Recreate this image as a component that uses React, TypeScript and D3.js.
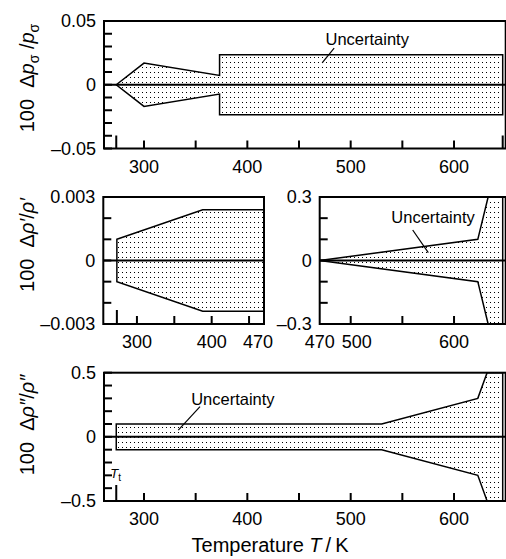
import React from "react";
import * as d3 from "d3";

const W = 506;
const H = 559;
const FONT = "'Liberation Sans', Arial, Helvetica, sans-serif";

// ---- data ----
const T_TRIPLE = 273.16;
const T_CRIT = 647.096;

const pressT = [273.16, 300, 373.124, 373.124, 647.096];
const pressU = [0, 0.017, 0.0073, 0.0235, 0.0235];

const liqLowT = [273.16, 388, 470];
const liqLowU = [0.001, 0.0024, 0.0024];

const liqHighT = [470, 623, 633, 647.096];
const liqHighU = [0, 0.1, 0.3, 0.3];

const vapT = [273.16, 530, 623, 632, 647.096];
const vapU = [0.1, 0.1, 0.3, 0.5, 0.5];

const pressYLabels = ["0.05", "0", "–0.05"];
const pressYVals = [0.05, 0, -0.05];
const liqLowYLabels = ["0.003", "0", "–0.003"];
const liqLowYVals = [0.003, 0, -0.003];
const liqHighYLabels = ["0.3", "0", "–0.3"];
const liqHighYVals = [0.3, 0, -0.3];
const vapYLabels = ["0.5", "0", "–0.5"];
const vapYVals = [0.5, 0, -0.5];

const fullXLabels = [300, 400, 500, 600];
const liqLowXLabels = [300, 400, 470];
const liqHighXLabels = [470, 500, 600];

type Ann = { text: string; tx: number; ty: number; x1: number; y1: number; x2: number; y2: number };

type PanelProps = {
  id: string;
  xDomain: [number, number];
  xRange: [number, number];
  yDomain: [number, number];
  yRange: [number, number];
  T: number[];
  U: number[];
  yStep: number;
  xStep: number;
  yVals: number[];
  yLabels: string[];
  xLabels: number[];
  xLabelShift?: Record<number, number>;
  special: { t: number; len: number }[];
  ann?: Ann;
  tt?: boolean;
};

function Panel(p: PanelProps) {
  const x = d3.scaleLinear().domain(p.xDomain).range(p.xRange);
  const y = d3.scaleLinear().domain(p.yDomain).range(p.yRange);
  const [x0, x1] = p.xRange;
  const yb = p.yRange[0];
  const yt = p.yRange[1];
  const pts = p.T.map((t, i) => ({ t, u: p.U[i] }));
  const area = d3
    .area<{ t: number; u: number }>()
    .x((d) => x(d.t))
    .y0((d) => y(-d.u))
    .y1((d) => y(d.u));
  const yTicks = d3
    .range(Math.ceil(p.yDomain[0] / p.yStep - 1e-6), Math.floor(p.yDomain[1] / p.yStep + 1e-6) + 1)
    .map((k) => k * p.yStep);
  const xTicks = d3
    .range(Math.ceil(p.xDomain[0] / p.xStep), Math.floor(p.xDomain[1] / p.xStep) + 1)
    .map((k) => k * p.xStep)
    .filter((v) => x(v) > x0 + 3 && x(v) < x1 - 3);
  return (
    <g>
      <defs>
        <clipPath id={"clip-" + p.id}>
          <rect x={x0} y={yt} width={x1 - x0} height={yb - yt} />
        </clipPath>
      </defs>
      <g clipPath={`url(#clip-${p.id})`}>
        <path d={area(pts) || ""} fill="url(#dots)" stroke="#000" strokeWidth={1.5} strokeLinejoin="miter" />
      </g>
      <line x1={x0} x2={x1} y1={y(0)} y2={y(0)} stroke="#000" strokeWidth={2} />
      {yTicks.map((v) => (
        <line key={"yt" + v} x1={x0} x2={x0 + 8} y1={y(v)} y2={y(v)} stroke="#000" strokeWidth={2} />
      ))}
      {xTicks.map((v) => (
        <line key={"xt" + v} x1={x(v)} x2={x(v)} y1={yb} y2={yb - 8} stroke="#000" strokeWidth={2} />
      ))}
      {p.special.map((s) => (
        <line key={"sp" + s.t} x1={x(s.t)} x2={x(s.t)} y1={yb} y2={yb - s.len} stroke="#000" strokeWidth={2} />
      ))}
      <rect x={x0} y={yt} width={x1 - x0} height={yb - yt} fill="none" stroke="#000" strokeWidth={2} />
      {p.yVals.map((v, i) => (
        <text key={"yl" + v} x={x0 - 8} y={y(v)} dy="0.36em" textAnchor="end" fontSize={18} fontFamily={FONT}>
          {p.yLabels[i]}
        </text>
      ))}
      {p.xLabels.map((v) => (
        <text
          key={"xl" + v}
          x={x(v) + ((p.xLabelShift && p.xLabelShift[v]) || 0)}
          y={yb + 24}
          textAnchor="middle"
          fontSize={18}
          fontFamily={FONT}
        >
          {v}
        </text>
      ))}
      {p.ann && (
        <g>
          <text x={x(p.ann.tx)} y={y(p.ann.ty)} textAnchor="middle" fontSize={16.5} fontFamily={FONT}>
            {p.ann.text}
          </text>
          <line
            x1={x(p.ann.x1)}
            y1={y(p.ann.y1)}
            x2={x(p.ann.x2)}
            y2={y(p.ann.y2)}
            stroke="#000"
            strokeWidth={1.2}
          />
        </g>
      )}
      {p.tt && (
        <text x={x(T_TRIPLE) - 6} y={y(-0.32)} fontSize={13} fontFamily={FONT}>
          <tspan fontStyle="italic">T</tspan>
          <tspan fontSize={10} dy={3}>t</tspan>
        </text>
      )}
    </g>
  );
}

export default function App() {
  return (
    <svg width={W} height={H} style={{ display: "block", position: "absolute", left: 0, top: 0 }}>
      <defs>
        <pattern id="dots" width={4} height={5} patternUnits="userSpaceOnUse">
          <rect x={2} y={2} width={1} height={1} fill="#000" />
        </pattern>
      </defs>
      <rect x={0} y={0} width={W} height={H} fill="#fff" />
      <Panel
        id="p"
        xDomain={[261.3, 650]}
        xRange={[104, 505.7]}
        yDomain={[-0.05, 0.05]}
        yRange={[148.5, 21]}
        T={pressT}
        U={pressU}
        yStep={0.01}
        xStep={50}
        yVals={pressYVals}
        yLabels={pressYLabels}
        xLabels={fullXLabels}
        special={[
          { t: T_TRIPLE, len: 13 },
          { t: T_CRIT, len: 13 },
        ]}
        ann={{ text: "Uncertainty", tx: 516, ty: 0.0312, x1: 484, y1: 0.0288, x2: 472.4, y2: 0.0171 }}
      />
      <Panel
        id="ll"
        xDomain={[255, 470]}
        xRange={[103.3, 264]}
        yDomain={[-0.003, 0.003]}
        yRange={[324, 197]}
        T={liqLowT}
        U={liqLowU}
        yStep={0.001}
        xStep={50}
        yVals={liqLowYVals}
        yLabels={liqLowYLabels}
        xLabels={liqLowXLabels}
        xLabelShift={{ 470: -6 }}
        special={[{ t: T_TRIPLE, len: 14 }]}
      />
      <Panel
        id="lh"
        xDomain={[470, 650]}
        xRange={[319.7, 505.7]}
        yDomain={[-0.3, 0.3]}
        yRange={[324, 197]}
        T={liqHighT}
        U={liqHighU}
        yStep={0.1}
        xStep={50}
        yVals={liqHighYVals}
        yLabels={liqHighYLabels}
        xLabels={liqHighXLabels}
        xLabelShift={{ 500: 6 }}
        special={[]}
        ann={{ text: "Uncertainty", tx: 579.7, ty: 0.177, x1: 560, y1: 0.144, x2: 575.1, y2: 0.037 }}
      />
      <Panel
        id="v"
        xDomain={[261.3, 650]}
        xRange={[104, 505.7]}
        yDomain={[-0.5, 0.5]}
        yRange={[501, 372.7]}
        T={vapT}
        U={vapU}
        yStep={0.1}
        xStep={50}
        yVals={vapYVals}
        yLabels={vapYLabels}
        xLabels={fullXLabels}
        special={[{ t: T_TRIPLE, len: 16 }]}
        ann={{ text: "Uncertainty", tx: 386, ty: 0.248, x1: 354.2, y1: 0.235, x2: 333.2, y2: 0.053 }}
        tt
      />
      <text x={270} y={552} textAnchor="middle" fontSize={20} fontFamily={FONT}>
        Temperature <tspan fontStyle="italic">T</tspan>
        {"\u2009/\u2009K"}
      </text>
      <text transform="translate(34,78) rotate(-90)" textAnchor="middle" fontSize={20} fontFamily={FONT}>
        {"100\u00a0\u00a0Δ"}
        <tspan fontStyle="italic">p</tspan>
        <tspan fontSize={14} dy={5}>σ</tspan>
        <tspan dy={-5}>{"\u00a0/"}</tspan>
        <tspan fontStyle="italic">p</tspan>
        <tspan fontSize={14} dy={5}>σ</tspan>
      </text>
      <text transform="translate(34,245) rotate(-90)" textAnchor="middle" fontSize={20} fontFamily={FONT}>
        {"100\u00a0\u00a0Δ"}
        <tspan fontStyle="italic">ρ′</tspan>/<tspan fontStyle="italic">ρ′</tspan>
      </text>
      <text transform="translate(34,425) rotate(-90)" textAnchor="middle" fontSize={20} fontFamily={FONT}>
        {"100\u00a0\u00a0Δ"}
        <tspan fontStyle="italic">ρ″</tspan>/<tspan fontStyle="italic">ρ″</tspan>
      </text>
    </svg>
  );
}
